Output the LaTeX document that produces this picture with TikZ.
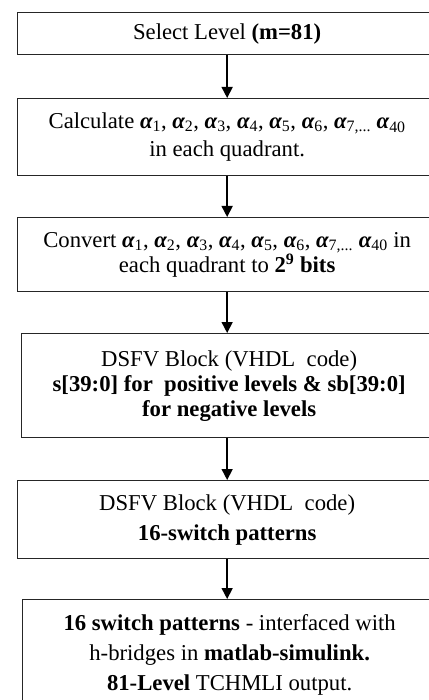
\documentclass[tikz,border=0pt]{standalone}
\usepackage{fontspec}
\setmainfont{Liberation Serif}
\usetikzlibrary{arrows.meta}
\newcommand{\alp}[1]{{\bfseries\itshape α}\textsubscript{#1}}

\begin{document}
\begin{tikzpicture}[x=1pt,y=-1pt,
  stepbox/.style={draw=black!85,line width=1.3pt,align=center,anchor=north west,
    inner sep=0pt,font=\fontsize{22.7}{28}\selectfont},
  flow/.style={-{Triangle[length=11pt,width=11pt]},line width=1.6pt}]
  \useasboundingbox (0,0) rectangle (428,700);
  \node[stepbox,minimum width=419pt,minimum height=42pt] (level) at (17,12)
    {Select Level \textbf{(m=81)}};
  \node[stepbox,minimum width=419pt,minimum height=77pt] (calc) at (17,98)
    {Calculate \alp{1}, \alp{2}, \alp{3}, \alp{4}, \alp{5}, \alp{6}, \alp{7,...} \alp{40}\\
     in each quadrant.};
  \node[stepbox,minimum width=419pt,minimum height=74pt,
    font=\fontsize{22.7}{25}\selectfont] (conv) at (17,217)
    {Convert \alp{1}, \alp{2}, \alp{3}, \alp{4}, \alp{5}, \alp{6}, \alp{7,...} \alp{40} in\\
     each quadrant to \textbf{2\textsuperscript{9} bits}};
  \node[stepbox,minimum width=415pt,minimum height=104pt,
    font=\fontsize{22.7}{25}\selectfont] (dsfv) at (21,333)
    {DSFV Block (VHDL\ \ code)\\
     \textbf{s[39:0] for\ \ positive levels \& sb[39:0]}\\
     \textbf{for negative levels}};
  \node[stepbox,minimum width=419pt,minimum height=78pt,
    font=\fontsize{22.7}{30}\selectfont] (pattern) at (17,480)
    {DSFV Block (VHDL\ \ code)\\
     \textbf{16-switch patterns}};
  \node[stepbox,minimum width=414pt,minimum height=110pt,
    font=\fontsize{22.7}{30}\selectfont] (hbridge) at (22,599)
    {\textbf{16 switch patterns} - interfaced with\\
     h-bridges in \textbf{matlab-simulink.}\\
     \textbf{81-Level} TCHMLI output.};
  % arrows between the steps
  \draw[flow] (level.south) -- (level.south |- calc.north);
  \draw[flow] (calc.south) -- (calc.south |- conv.north);
  \draw[flow] (conv.south) -- (conv.south |- dsfv.north);
  \draw[flow] (conv.south |- dsfv.south) -- (conv.south |- pattern.north);
  \draw[flow] (pattern.south) -- (pattern.south |- hbridge.north);
\end{tikzpicture}
\end{document}
